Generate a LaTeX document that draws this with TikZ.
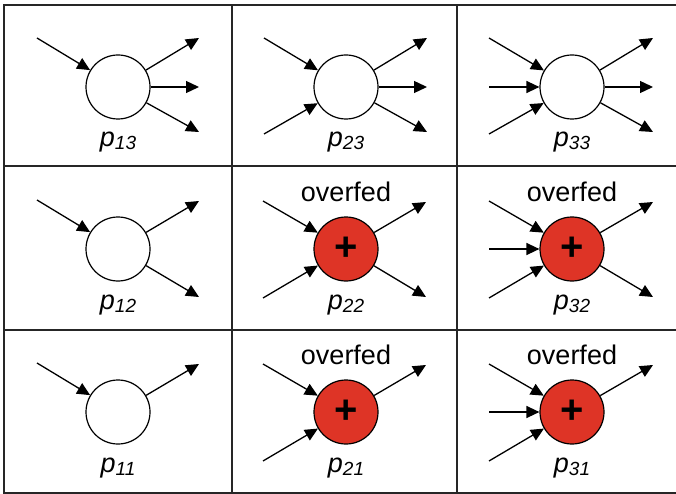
\documentclass[tikz,border=0pt]{standalone}
\usepackage{fontspec}
\setmainfont{Liberation Sans}
\usetikzlibrary{arrows.meta}
\definecolor{hotplace}{RGB}{222,52,38}

\newcommand{\plbl}[1]{\itshape p\raisebox{-3pt}{\fontsize{19}{19}\selectfont #1}}

\begin{document}
\begin{tikzpicture}[x=1pt,y=-1pt,
                    every node/.style={font=\fontsize{27}{32}\selectfont},
                    grid/.style={line width=2pt,draw=black!85},
                    flow/.style={line width=1.3pt,-{Triangle[length=13pt,width=12pt]}},
                    place/.style={circle,draw,line width=1.2pt,minimum size=64pt,inner sep=0pt,fill=white},
                    hot/.style={place,fill=hotplace,font=\fontsize{40}{40}\selectfont\bfseries}]
  \useasboundingbox (0,0) rectangle (676,494);

  % --- table lines ---------------------------------------------------------
  \draw[grid] (676,5) -- (4,5) -- (4,493) -- (676,493);
  \draw[grid] (4,166) -- (676,166);
  \draw[grid] (4,330) -- (676,330);
  \draw[grid] (232,5) -- (232,493);
  \draw[grid] (457,5) -- (457,493);

  % --- top row ---------------------------------------------------------------
  \begin{scope}[shift={(118,87)}]
    \node[place] (p13) at (0,0) {};
    \coordinate (p13a) at (-81,-49);
    \draw[flow] (p13a) -- (p13);
    \coordinate (p13x) at (81,-49);
    \coordinate (p13y) at (81,0);
    \coordinate (p13z) at (81,45);
    \draw[flow] (p13) -- (p13x);
    \draw[flow] (p13) -- (p13y);
    \draw[flow] (p13) -- (p13z);
    \node (l13) at (0,55) {\plbl{13}};
  \end{scope}

  \begin{scope}[shift={(346,87)}]
    \node[place] (p23) at (0,0) {};
    \coordinate (p23a) at (-82,-49);
    \coordinate (p23c) at (-82,47);
    \draw[flow] (p23a) -- (p23);
    \draw[flow] (p23c) -- (p23);
    \coordinate (p23x) at (81,-49);
    \coordinate (p23y) at (81,0);
    \coordinate (p23z) at (81,45);
    \draw[flow] (p23) -- (p23x);
    \draw[flow] (p23) -- (p23y);
    \draw[flow] (p23) -- (p23z);
    \node (l23) at (0,55) {\plbl{23}};
  \end{scope}

  \begin{scope}[shift={(572,87)}]
    \node[place] (p33) at (0,0) {};
    \coordinate (p33a) at (-83,-49);
    \coordinate (p33b) at (-83,0);
    \coordinate (p33c) at (-83,47);
    \draw[flow] (p33a) -- (p33);
    \draw[flow] (p33b) -- (p33);
    \draw[flow] (p33c) -- (p33);
    \coordinate (p33x) at (81,-49);
    \coordinate (p33y) at (81,0);
    \coordinate (p33z) at (81,45);
    \draw[flow] (p33) -- (p33x);
    \draw[flow] (p33) -- (p33y);
    \draw[flow] (p33) -- (p33z);
    \node (l33) at (0,55) {\plbl{33}};
  \end{scope}

  % --- middle row ----------------------------------------------------------
  \begin{scope}[shift={(118,249)}]
    \node[place] (p12) at (0,0) {};
    \coordinate (p12a) at (-81,-49);
    \draw[flow] (p12a) -- (p12);
    \coordinate (p12x) at (81,-48);
    \coordinate (p12z) at (81,48);
    \draw[flow] (p12) -- (p12x);
    \draw[flow] (p12) -- (p12z);
    \node (l12) at (0,56) {\plbl{12}};
  \end{scope}

  \begin{scope}[shift={(346,249)}]
    \node[hot] (p22) at (0,0) {+};
    \coordinate (p22a) at (-83,-48);
    \coordinate (p22c) at (-83,49);
    \draw[flow] (p22a) -- (p22);
    \draw[flow] (p22c) -- (p22);
    \coordinate (p22x) at (80,-47);
    \coordinate (p22z) at (80,48);
    \draw[flow] (p22) -- (p22x);
    \draw[flow] (p22) -- (p22z);
    \node (o22) at (0,-57) {overfed};
    \node (l22) at (0,56) {\plbl{22}};
  \end{scope}

  \begin{scope}[shift={(572,249)}]
    \node[hot] (p32) at (0,0) {+};
    \coordinate (p32a) at (-83,-48);
    \coordinate (p32b) at (-83,0);
    \coordinate (p32c) at (-83,49);
    \draw[flow] (p32a) -- (p32);
    \draw[flow] (p32b) -- (p32);
    \draw[flow] (p32c) -- (p32);
    \coordinate (p32x) at (81,-47);
    \coordinate (p32z) at (81,48);
    \draw[flow] (p32) -- (p32x);
    \draw[flow] (p32) -- (p32z);
    \node (o32) at (0,-57) {overfed};
    \node (l32) at (0,56) {\plbl{32}};
  \end{scope}

  % --- bottom row ----------------------------------------------------------
  \begin{scope}[shift={(118,412)}]
    \node[place] (p11) at (0,0) {};
    \coordinate (p11a) at (-81,-49);
    \draw[flow] (p11a) -- (p11);
    \coordinate (p11x) at (81,-48);
    \draw[flow] (p11) -- (p11x);
    \node (l11) at (0,56) {\plbl{11}};
  \end{scope}

  \begin{scope}[shift={(346,412)}]
    \node[hot] (p21) at (0,0) {+};
    \coordinate (p21a) at (-83,-48);
    \coordinate (p21c) at (-83,49);
    \draw[flow] (p21a) -- (p21);
    \draw[flow] (p21c) -- (p21);
    \coordinate (p21x) at (80,-47);
    \draw[flow] (p21) -- (p21x);
    \node (o21) at (0,-57) {overfed};
    \node (l21) at (0,56) {\plbl{21}};
  \end{scope}

  \begin{scope}[shift={(572,412)}]
    \node[hot] (p31) at (0,0) {+};
    \coordinate (p31a) at (-83,-48);
    \coordinate (p31b) at (-83,0);
    \coordinate (p31c) at (-83,49);
    \draw[flow] (p31a) -- (p31);
    \draw[flow] (p31b) -- (p31);
    \draw[flow] (p31c) -- (p31);
    \coordinate (p31x) at (81,-47);
    \draw[flow] (p31) -- (p31x);
    \node (o31) at (0,-57) {overfed};
    \node (l31) at (0,56) {\plbl{31}};
  \end{scope}
\end{tikzpicture}
\end{document}
